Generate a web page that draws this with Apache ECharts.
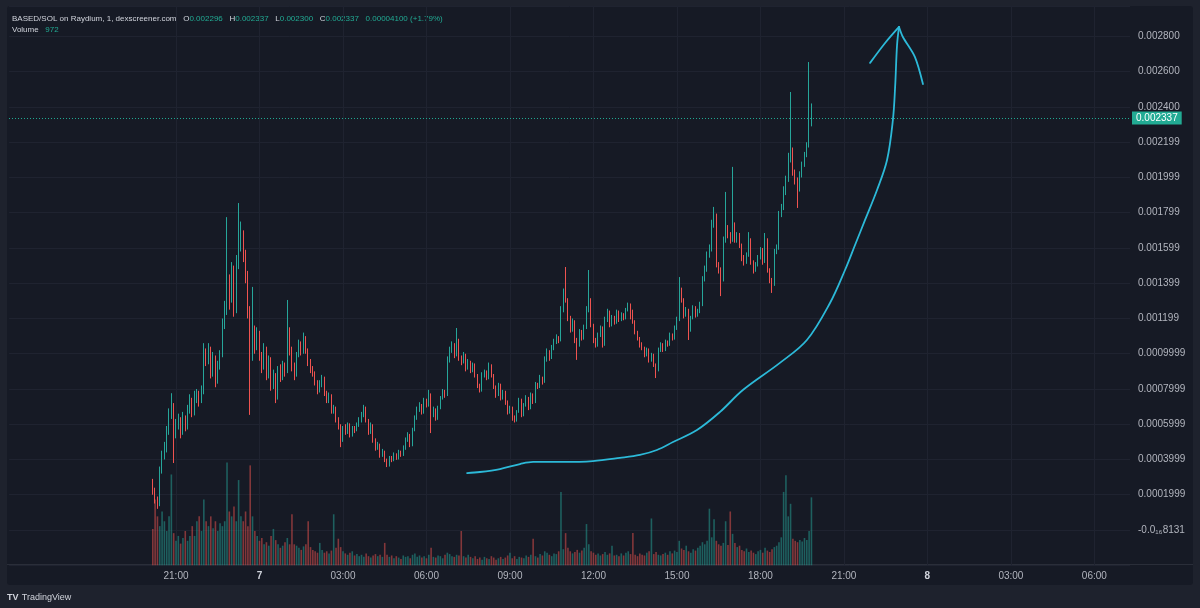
<!DOCTYPE html>
<html><head><meta charset="utf-8">
<script src="https://cdn.jsdelivr.net/npm/echarts@6/dist/echarts.min.js"></script>
<style>
html,body{margin:0;padding:0;background:#1e222d;width:1200px;height:608px;overflow:hidden}
#panel{position:absolute;left:7px;top:6px;width:1186px;height:579px;background:#161a25;border-radius:3px}
#sep{position:absolute;left:7px;top:564px;width:1186px;height:1px;background:#2a2e39}
#chart{position:absolute;left:0;top:0;width:1200px;height:608px}
</style></head><body>
<div id="panel"></div><div id="sep"></div><div id="chart"></div>
<script>
// 5-minute candles; time in hours after day 6 00:00, first candle at 20:10
const candleStartHour = 20 + 10 / 60;
const candleStepMin = 5;
// prices in units of 1e-6 SOL
const opens = [255,227,170,142,340,426,454,567,653,709,539,596,624,556,635,579,681,738,670,749,
766,738,783,993,965,1021,896,976,851,936,993,1163,1248,1419,1305,1475,1248,1504,1617,1645,
1560,1447,1248,993,1135,1050,1106,993,936,1021,879,965,823,879,749,908,862,936,896,1135,
1021,936,879,993,1050,1010,1089,1021,953,919,896,840,794,823,862,783,738,760,681,692,
635,596,511,579,556,596,539,579,567,596,624,653,692,624,556,596,511,465,482,426,
443,397,369,409,397,426,409,443,426,465,511,539,482,567,635,681,709,670,738,709,
766,653,681,635,692,749,783,766,965,1021,1050,993,1078,976,953,993,919,953,908,936,
879,823,794,879,896,862,930,879,811,766,823,749,783,726,670,692,635,624,670,738,
653,709,749,692,766,726,823,811,862,840,965,1010,976,1033,1067,1089,1078,1248,1333,1305,
1203,1135,1180,1078,1050,1123,1089,1146,1248,1305,1163,1078,1050,1106,1146,1050,1192,1237,1163,1203,
1180,1237,1192,1220,1203,1248,1277,1203,1180,1123,1089,1050,1033,993,1021,965,993,936,908,1021,
1050,1021,1067,1050,1106,1089,1146,1192,1362,1305,1220,1248,1135,1203,1260,1220,1237,1277,1419,1475,
1560,1589,1730,1787,1504,1475,1419,1645,1714,1674,1645,1730,1645,1674,1617,1543,1521,1560,1645,1521,
1475,1504,1543,1589,1521,1645,1475,1419,1390,1577,1600,1787,1827,1929,1986,2099,2156,2031,1986,1929,
2014,2071,2128,2184,2296];
const closes = [227,170,142,340,426,454,567,653,709,539,596,624,556,635,579,681,738,670,749,766,
738,783,993,965,1021,896,976,851,936,993,1163,1248,1419,1305,1475,1248,1504,1617,1645,1560,
1447,1248,993,1135,1050,1106,993,936,1021,879,965,823,879,749,908,862,936,896,1135,1021,
936,879,993,1050,1010,1089,1021,953,919,896,840,794,823,862,783,738,760,681,692,635,
596,511,579,556,596,539,579,567,596,624,653,692,624,556,596,511,465,482,426,443,
397,369,409,397,426,409,443,426,465,511,539,482,567,635,681,709,670,738,709,766,
653,681,635,692,749,783,766,965,1021,1050,993,1078,976,953,993,919,953,908,936,879,
823,794,879,896,862,930,879,811,766,823,749,783,726,670,692,635,624,670,738,653,
709,749,692,766,726,823,811,862,840,965,1010,976,1033,1067,1089,1078,1248,1333,1305,1203,
1135,1180,1078,1050,1123,1089,1146,1248,1305,1163,1078,1050,1106,1146,1050,1192,1237,1163,1203,1180,
1237,1192,1220,1203,1248,1277,1203,1180,1123,1089,1050,1033,993,1021,965,993,936,908,1021,1050,
1021,1067,1050,1106,1089,1146,1192,1362,1305,1220,1248,1135,1203,1260,1220,1237,1277,1419,1475,1560,
1589,1730,1787,1504,1475,1419,1645,1714,1674,1645,1730,1645,1674,1617,1543,1521,1560,1645,1521,1475,
1504,1543,1589,1521,1645,1475,1419,1390,1577,1600,1787,1827,1929,1986,2099,2156,2031,1986,1929,2014,
2071,2128,2184,2400,2337];
const highs = [290,240,190,360,450,500,590,690,776,720,630,660,640,670,650,710,770,750,790,800,
790,820,1060,1030,1060,1040,1010,990,960,1020,1200,1300,1775,1450,1520,1500,1560,1855,1750,1700,
1590,1470,1270,1379,1160,1150,1130,1010,1060,1040,990,980,910,890,930,940,960,950,1305,1150,
1040,950,1010,1080,1070,1120,1100,1030,970,930,900,850,850,880,870,790,780,770,710,700,
640,600,590,600,610,605,590,590,610,640,670,710,700,630,610,600,520,500,490,460,
450,405,420,420,440,435,455,450,480,525,555,545,580,650,700,725,715,750,745,795,
775,700,690,705,760,800,795,985,1040,1070,1060,1146,1085,990,1010,1000,970,960,950,945,
885,830,895,910,905,950,940,885,820,835,830,795,790,735,705,700,650,680,750,745,
720,765,755,780,775,840,835,880,870,985,1030,1020,1050,1085,1110,1100,1270,1370,1492,1315,
1215,1200,1190,1090,1140,1135,1165,1270,1475,1315,1170,1090,1120,1160,1155,1210,1255,1245,1220,1215,
1250,1245,1235,1230,1260,1290,1285,1250,1190,1130,1095,1065,1040,1035,1030,1005,1000,945,1035,1065,
1060,1080,1075,1120,1115,1160,1210,1435,1375,1315,1265,1255,1215,1275,1270,1255,1295,1440,1500,1580,
1620,1760,1833,1795,1520,1490,1665,1918,1730,1690,2060,1745,1690,1685,1625,1560,1575,1690,1655,1530,
1520,1560,1605,1600,1685,1655,1485,1430,1595,1620,1810,1850,1950,2010,2140,2485,2170,2045,2000,2035,
2090,2145,2200,2655,2420];
const lows = [200,150,120,135,320,400,440,540,630,380,520,570,520,540,560,570,660,640,650,720,
700,720,770,930,940,860,870,810,830,910,980,1140,1220,1250,1290,1210,1230,1480,1580,1520,
1400,1200,653,960,1000,1020,960,890,910,850,860,790,800,720,740,840,850,870,890,990,
900,850,870,980,990,1000,1000,930,890,870,820,770,780,810,760,720,720,660,660,610,
570,470,500,540,545,525,530,550,560,585,610,640,610,540,545,495,450,455,410,415,
385,357,360,385,390,398,400,415,420,455,500,470,475,560,625,670,655,660,695,700,
550,640,620,625,685,740,750,760,950,1005,975,985,960,935,945,900,910,890,895,865,
805,780,785,865,850,855,865,800,750,760,735,740,710,655,660,620,610,615,665,640,
645,700,680,685,715,720,800,805,825,835,955,960,970,1020,1055,1060,1070,1235,1290,1185,
1120,1125,1060,965,1040,1075,1080,1140,1235,1150,1060,1035,1040,1095,1035,1045,1180,1150,1155,1165,
1170,1180,1185,1190,1195,1240,1195,1170,1110,1075,1035,1020,980,985,950,955,925,862,900,1010,
1010,1015,1040,1045,1075,1080,1135,1185,1290,1200,1210,1078,1125,1195,1205,1210,1230,1270,1410,1465,
1545,1580,1715,1490,1455,1327,1410,1630,1655,1625,1635,1630,1630,1600,1525,1500,1510,1550,1505,1455,
1465,1495,1535,1505,1515,1460,1400,1345,1385,1565,1590,1775,1815,1900,1975,2085,2010,1960,1827,1920,
2000,2060,2115,2170,2290];
const volumes = [520,940,700,560,770,630,490,700,1300,460,350,420,310,390,490,350,420,560,420,630,
700,490,940,630,560,700,530,630,490,600,560,630,1470,770,700,840,630,1220,700,630,
770,560,1430,700,490,420,350,390,300,330,280,420,520,360,300,250,280,330,390,300,
730,300,280,250,220,270,300,630,260,220,200,180,320,220,180,200,170,210,730,250,
380,260,200,170,150,180,200,140,160,130,150,120,170,130,110,140,160,130,150,120,
320,150,120,140,100,130,110,90,140,120,130,100,150,170,120,140,110,130,100,150,
250,120,110,140,130,100,150,180,160,130,120,150,140,490,130,110,150,120,100,130,
90,110,80,120,100,90,130,110,80,100,120,90,110,140,180,100,130,90,120,110,
100,140,120,150,380,130,110,160,140,200,180,150,130,170,160,200,1050,230,460,250,
200,170,190,220,180,210,250,590,300,200,180,150,170,140,160,190,150,170,280,140,
150,130,170,140,180,200,160,460,150,130,170,150,140,180,200,670,160,190,150,140,
160,180,150,200,170,210,190,350,240,220,280,200,180,230,210,250,280,330,300,350,
810,400,660,350,300,280,320,630,290,770,450,320,260,280,220,200,240,190,210,180,
160,200,220,180,250,210,190,230,260,280,330,400,1050,1290,700,880,380,350,330,360,
340,390,360,490,972];

// price-scale tick labels (for 0, 0.0002, ... 0.0028)
const priceTickLabels = ['-0.0\u2081\u20868131','0.0001999','0.0003999','0.0005999','0.0007999','0.0009999',
  '0.001199','0.001399','0.001599','0.001799','0.001999','0.002199','0.002400','0.002600','0.002800'];
const lastPrice = 0.002337;
const lastPriceText = '0.002337';
// time-scale grid/label hours (after day 6 00:00), from 21:00 on day 6 to 06:00 on day 8
const timeGridHours = [21,24,27,30,33,36,39,42,45,48,51,54];

// hand-drawn annotation, anchored in time (hours after day 6 00:00) and price
const arrowHours  = [31.46,31.92,32.64,33.36,33.83,34.91,35.98,36.95,37.67,38.28,38.86,39.72,40.55,41.37,42.70,43.67,44.50,45.04,45.40,45.76,46.19,46.55,46.76,46.84,46.91,46.98];
const arrowPrices = [0.000323,0.000329,0.000346,0.000374,0.000386,0.000386,0.000391,0.000409,0.000426,0.000454,0.000499,0.000567,0.000670,0.000794,0.000948,0.001078,0.001288,0.001475,0.001617,0.001759,0.001929,0.002099,0.002326,0.002513,0.002752,0.002854];
const headLeftHours  = [45.94,46.48,46.98];
const headLeftPrices = [0.002650,0.002763,0.002854];
const headRightHours  = [46.98,47.12,47.55,47.84];
const headRightPrices = [0.002854,0.002797,0.002684,0.002530];

const UP = '#26a69a', DOWN = '#ef5350';
const candleData = [], volData = [];
for (let i = 0; i < closes.length; i++) {
  const t = candleStartHour + i * candleStepMin / 60;
  candleData.push([t, opens[i] / 1e6, closes[i] / 1e6, lows[i] / 1e6, highs[i] / 1e6]);
  const up = closes[i] >= opens[i];
  volData.push({ value: [t, volumes[i]], itemStyle: { color: up ? 'rgba(38,166,154,0.5)' : 'rgba(239,83,80,0.5)' } });
}
const toPts = (hs, ps) => hs.map((h, i) => [h, ps[i]]);

const FONT = '"Liberation Sans", Arial, sans-serif';
const chart = echarts.init(document.getElementById('chart'), null, { renderer: 'canvas' });
chart.setOption({
  animation: false,
  backgroundColor: 'transparent',
  grid: { left: 9.02, right: 70, top: 6.5, bottom: 42.75 },
  xAxis: {
    type: 'value', min: 15, max: 55.28, interval: 3,
    axisLine: { show: false }, axisTick: { show: false },
    splitLine: { show: false },
    axisLabel: {
      showMinLabel: false, showMaxLabel: false,
      color: '#b2b5be', fontSize: 10, fontFamily: FONT, margin: 6,
      formatter: function (v) {
        const h = Math.round(v);
        if (timeGridHours.indexOf(h) < 0 || Math.abs(v - h) > 1e-6) return '';
        const hh = h % 24;
        if (hh === 0) return '{d|' + (6 + Math.floor(h / 24)) + '}';
        return String(hh).padStart(2, '0') + ':00';
      },
      rich: { d: { fontWeight: 'bold', color: '#d1d4dc', fontSize: 10, fontFamily: FONT } }
    }
  },
  yAxis: [{
    type: 'value', position: 'right', min: -0.0002, max: 0.00297, interval: 0.0002,
    axisLine: { show: false }, axisTick: { show: false },
    splitLine: { show: true, lineStyle: { color: '#1f2330', width: 1 } },
    axisLabel: {
      color: '#b2b5be', fontSize: 10, fontFamily: FONT, margin: 8,
      formatter: function (v) {
        const k = Math.round(v / 0.0002);
        return (k >= 0 && k < priceTickLabels.length) ? priceTickLabels[k] : '';
      }
    }
  }, {
    type: 'value', min: 0, max: 8000, show: false, splitLine: { show: false }
  }],
  series: [{
    type: 'line', data: [], z: 0, silent: true,
    markLine: {
      z: 0, symbol: 'none', silent: true, animation: false, precision: 4,
      data: timeGridHours.map(h => ({ xAxis: h })),
      lineStyle: { type: 'solid', color: '#1f2330', width: 1 },
      label: { show: false }
    }
  }, {
    type: 'bar', yAxisIndex: 1, data: volData, barWidth: 1.6, z: 2
  }, {
    type: 'candlestick', data: candleData, barWidth: 1, z: 3,
    encode: { x: 0, y: [1, 2, 3, 4] },
    itemStyle: { color: UP, color0: DOWN, borderColor: UP, borderColor0: DOWN, borderWidth: 1 }
  }, {
    type: 'line', data: toPts(arrowHours, arrowPrices), smooth: 0.35, showSymbol: false, z: 6,
    lineStyle: { color: '#2cb9d8', width: 1.8, cap: 'round', join: 'round' },
    markLine: {
      symbol: 'none', silent: true, animation: false, precision: 8,
      data: [{ yAxis: lastPrice }],
      lineStyle: { type: [1, 2], color: '#22ab94', width: 1 },
      label: {
        show: true, position: 'end', distance: 2, formatter: lastPriceText,
        backgroundColor: '#22ab94', color: '#ffffff', fontSize: 10, fontFamily: FONT,
        padding: [2, 4, 1, 4]
      }
    }
  }, {
    type: 'line', data: toPts(headLeftHours, headLeftPrices), smooth: 0.3, showSymbol: false, z: 6,
    lineStyle: { color: '#2cb9d8', width: 1.8, cap: 'round', join: 'round' }
  }, {
    type: 'line', data: toPts(headRightHours, headRightPrices), smooth: 0.3, showSymbol: false, z: 6,
    lineStyle: { color: '#2cb9d8', width: 1.8, cap: 'round', join: 'round' }
  }],
  graphic: [{
    type: 'text', left: 12, top: 13,
    style: {
      text: '{t|BASED/SOL on Raydium, 1, dexscreener.com}  {t|O}{v|0.002296}  {t|H}{v|0.002337}  {t|L}{v|0.002300}  {t|C}{v|0.002337}  {v|0.00004100 (+1.79%)}',
      rich: {
        t: { fill: '#d1d4dc', fontSize: 8, fontFamily: FONT },
        v: { fill: '#22ab94', fontSize: 8, fontFamily: FONT }
      }
    }
  }, {
    type: 'text', left: 12, top: 24,
    style: {
      text: '{t|Volume}  {v|972}',
      rich: {
        t: { fill: '#d1d4dc', fontSize: 8, fontFamily: FONT },
        v: { fill: '#22ab94', fontSize: 8, fontFamily: FONT }
      }
    }
  }, {
    type: 'text', left: 7, top: 592,
    style: {
      text: '{b|TV} {t|TradingView}',
      rich: {
        b: { fill: '#d1d4dc', fontSize: 9, fontWeight: 'bold', fontFamily: FONT },
        t: { fill: '#d1d4dc', fontSize: 9, fontFamily: FONT }
      }
    }
  }]
});
</script></body></html>
